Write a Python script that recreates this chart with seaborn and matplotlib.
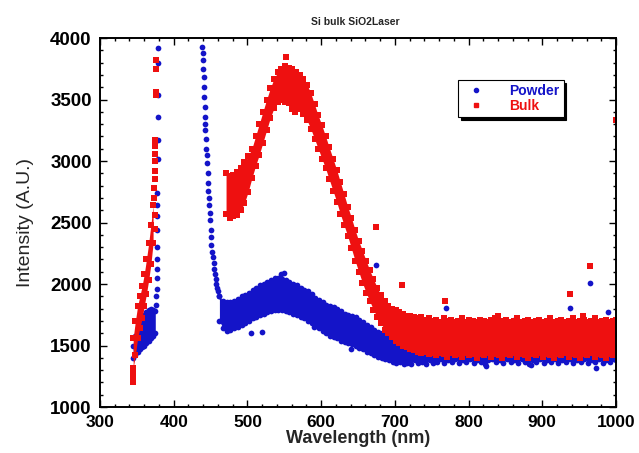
import pandas as pd
import matplotlib
matplotlib.use('Agg')
import matplotlib.pyplot as plt
import seaborn as sns
from matplotlib.ticker import MultipleLocator
from matplotlib.lines import Line2D

# ---- data: bands as (nm, low, high), single points as (nm, intensity)
powder_uv_band = [(345, 1400, 1500), (348, 1420, 1580), (351, 1450, 1640), (354, 1470, 1690),
                  (357, 1490, 1720), (360, 1500, 1750), (363, 1520, 1770), (366, 1540, 1790),
                  (369, 1560, 1800), (372, 1580, 1790), (375, 1600, 1780)]
powder_uv_peak = [(376, 1830), (376, 1900), (377, 1960), (377, 2050), (377, 2120), (378, 2200),
                  (378, 2300), (378, 2440), (378, 2550), (378, 2640), (378, 2740), (379, 3020),
                  (379, 3170), (379, 3360), (379, 3540), (379, 3800), (379, 3920)]
powder_laser_tail = [(439, 3930), (440, 3880), (440, 3820), (440, 3750), (441, 3680), (441, 3600),
                     (441, 3520), (442, 3440), (442, 3360), (443, 3300), (443, 3250), (444, 3180),
                     (444, 3100), (445, 3050), (445, 2980), (446, 2900), (447, 2820), (447, 2760),
                     (448, 2700), (448, 2640), (449, 2580), (449, 2520), (450, 2440), (451, 2380),
                     (451, 2320), (452, 2260), (453, 2220), (454, 2170), (455, 2120), (456, 2080),
                     (457, 2040), (458, 2000), (459, 1970), (460, 1940), (462, 1900)]
powder_vis_band = [(462, 1700, 1900), (467, 1640, 1860), (472, 1620, 1850), (477, 1630, 1850),
                   (482, 1640, 1860), (487, 1650, 1880), (492, 1670, 1900), (497, 1680, 1910),
                   (502, 1700, 1930), (507, 1720, 1950), (512, 1730, 1970), (517, 1750, 1990),
                   (522, 1760, 2000), (527, 1770, 2020), (532, 1780, 2030), (537, 1790, 2050),
                   (542, 1790, 2050), (547, 1790, 2040), (552, 1780, 2030), (557, 1770, 2020),
                   (562, 1760, 2000), (567, 1750, 1990), (572, 1730, 1970), (577, 1720, 1950),
                   (582, 1700, 1940), (587, 1680, 1920), (592, 1660, 1890), (597, 1640, 1870),
                   (602, 1620, 1850), (607, 1600, 1830), (612, 1580, 1820), (617, 1570, 1810),
                   (622, 1560, 1800), (627, 1540, 1780), (632, 1530, 1760), (637, 1520, 1750),
                   (642, 1510, 1740), (647, 1500, 1730), (652, 1480, 1710), (657, 1470, 1690),
                   (662, 1450, 1670), (667, 1440, 1650), (672, 1420, 1630), (677, 1410, 1610),
                   (682, 1400, 1600), (687, 1390, 1580), (692, 1380, 1570), (697, 1370, 1560),
                   (702, 1360, 1560), (707, 1370, 1550), (712, 1350, 1560), (717, 1360, 1530),
                   (722, 1350, 1540), (727, 1380, 1550), (732, 1360, 1560), (737, 1370, 1550),
                   (742, 1350, 1570), (747, 1380, 1560), (752, 1360, 1580), (757, 1370, 1570),
                   (762, 1390, 1590), (767, 1360, 1580), (772, 1380, 1600), (777, 1370, 1580),
                   (782, 1390, 1590), (787, 1360, 1570), (792, 1380, 1600), (797, 1370, 1580),
                   (802, 1390, 1590), (807, 1360, 1600), (812, 1380, 1580), (817, 1370, 1590),
                   (822, 1350, 1600), (827, 1380, 1580), (832, 1390, 1590), (837, 1370, 1600),
                   (842, 1380, 1580), (847, 1360, 1590), (852, 1390, 1600), (857, 1370, 1580),
                   (862, 1380, 1600), (867, 1360, 1590), (872, 1390, 1580), (877, 1370, 1600),
                   (882, 1350, 1590), (887, 1380, 1580), (892, 1370, 1600), (897, 1390, 1590),
                   (902, 1360, 1580), (907, 1380, 1600), (912, 1370, 1590), (917, 1390, 1580),
                   (922, 1360, 1600), (927, 1380, 1590), (932, 1370, 1580), (937, 1390, 1600),
                   (942, 1360, 1590), (947, 1380, 1580), (952, 1370, 1600), (957, 1390, 1590),
                   (962, 1360, 1580), (967, 1380, 1600), (972, 1370, 1590), (977, 1390, 1580),
                   (982, 1360, 1600), (987, 1380, 1590), (992, 1370, 1580), (997, 1390, 1600),
                   (1000, 1380, 1590)]
powder_strays = [(505, 1600), (520, 1610), (545, 2080), (550, 2090), (590, 1650), (640, 1470),
                 (674, 2155), (770, 1805), (824, 1330), (864, 1723), (885, 1340), (938, 1805),
                 (965, 2010), (973, 1320), (989, 1772)]

bulk_uv_band = [(345, 1320, 1560), (348, 1420, 1700), (351, 1560, 1820), (354, 1640, 1900),
                (357, 1720, 1980), (360, 1820, 2080), (363, 1920, 2200), (366, 2030, 2330),
                (369, 2160, 2480), (372, 2330, 2640)]
bulk_uv_peak = [(345, 1200), (345, 1250), (345, 1290), (373, 2700), (373, 2780), (374, 2850),
                (374, 2920), (374, 3000), (375, 3060), (375, 3120), (375, 3170), (376, 3540),
                (376, 3560), (376, 3750), (376, 3820), (374, 2450), (375, 2560)]
bulk_vis_band = [(471, 2570, 2900), (476, 2540, 2880), (481, 2550, 2890), (486, 2560, 2910),
                 (491, 2600, 2940), (496, 2660, 2990), (501, 2750, 3040), (506, 2860, 3100),
                 (511, 2960, 3200), (516, 3050, 3300), (521, 3150, 3400), (526, 3250, 3500),
                 (531, 3350, 3590), (536, 3430, 3670), (541, 3480, 3720), (546, 3500, 3750),
                 (551, 3480, 3770), (556, 3470, 3760), (561, 3460, 3750), (566, 3450, 3720),
                 (571, 3420, 3700), (576, 3380, 3670), (581, 3330, 3620), (586, 3260, 3550),
                 (591, 3180, 3460), (596, 3100, 3370), (601, 3020, 3290), (606, 2940, 3200),
                 (611, 2850, 3110), (616, 2760, 3020), (621, 2670, 2930), (626, 2570, 2830),
                 (631, 2480, 2730), (636, 2390, 2630), (641, 2290, 2540), (646, 2190, 2440),
                 (651, 2100, 2350), (656, 2010, 2270), (661, 1930, 2190), (666, 1860, 2110),
                 (671, 1790, 2040), (676, 1730, 1970), (681, 1680, 1910), (686, 1630, 1860),
                 (691, 1600, 1820), (696, 1570, 1800), (701, 1540, 1790), (706, 1520, 1770),
                 (711, 1500, 1760), (716, 1490, 1740), (721, 1470, 1740), (726, 1460, 1730),
                 (731, 1450, 1720), (736, 1440, 1730), (741, 1450, 1710), (746, 1430, 1720),
                 (751, 1440, 1700), (756, 1420, 1710), (761, 1440, 1690), (766, 1430, 1720),
                 (771, 1410, 1700), (776, 1440, 1710), (781, 1420, 1690), (786, 1430, 1700),
                 (791, 1410, 1720), (796, 1440, 1690), (801, 1420, 1710), (806, 1430, 1700),
                 (811, 1400, 1690), (816, 1430, 1710), (821, 1420, 1700), (826, 1440, 1690),
                 (831, 1410, 1710), (836, 1430, 1720), (841, 1420, 1690), (846, 1400, 1700),
                 (851, 1430, 1710), (856, 1420, 1690), (861, 1440, 1700), (866, 1410, 1720),
                 (871, 1430, 1690), (876, 1420, 1700), (881, 1400, 1710), (886, 1430, 1690),
                 (891, 1420, 1700), (896, 1440, 1710), (901, 1410, 1690), (906, 1430, 1700),
                 (911, 1420, 1720), (916, 1400, 1690), (921, 1430, 1700), (926, 1420, 1710),
                 (931, 1440, 1690), (936, 1410, 1700), (941, 1430, 1720), (946, 1420, 1690),
                 (951, 1400, 1700), (956, 1430, 1710), (961, 1420, 1690), (966, 1440, 1700),
                 (971, 1410, 1720), (976, 1430, 1690), (981, 1420, 1700), (986, 1400, 1710),
                 (991, 1430, 1690), (996, 1420, 1700), (1000, 1440, 1710)]
bulk_strays = [(553, 3845), (560, 3420), (565, 3400), (674, 2460), (710, 1990), (768, 1860),
               (840, 1740), (938, 1920), (955, 1740), (965, 2150), (1000, 3335)]

BLUE = '#1414c8'
RED = '#ee1010'


def to_frame(bands, singles, name):
    rows = []
    for band in bands:
        for nm, lo, hi in band:
            rows.append((nm, lo, name))
            rows.append((nm, hi, name))
    for pts in singles:
        for nm, val in pts:
            rows.append((nm, val, name))
    return pd.DataFrame(rows, columns=['nm', 'intensity', 'sample'])


powder = to_frame([powder_uv_band, powder_vis_band],
                  [powder_uv_peak, powder_laser_tail, powder_strays], 'Powder')
bulk = to_frame([bulk_uv_band, bulk_vis_band], [bulk_uv_peak, bulk_strays], 'Bulk')

sns.set_style('ticks')
plt.rcParams['font.family'] = ['Liberation Sans', 'DejaVu Sans']

fig = plt.figure(figsize=(6.39, 4.53), dpi=100)
ax = fig.add_axes([0.1565, 0.1015, 0.8075, 0.8146])

# dense bands: fill between the read envelopes, then the points themselves
for band in [powder_uv_band, powder_vis_band]:
    b = pd.DataFrame(band, columns=['nm', 'lo', 'hi'])
    ax.fill_between(b.nm, b.lo, b.hi, color=BLUE, lw=0)
sns.scatterplot(data=powder, x='nm', y='intensity', color=BLUE, marker='o', s=17,
                linewidth=0, ax=ax, legend=False)

for band in [bulk_uv_band, bulk_vis_band]:
    b = pd.DataFrame(band, columns=['nm', 'lo', 'hi'])
    ax.fill_between(b.nm, b.lo, b.hi, color=RED, lw=0)
sns.scatterplot(data=bulk, x='nm', y='intensity', color=RED, marker='s', s=14,
                linewidth=0, ax=ax, legend=False)

ax.set_xlim(300, 1000)
ax.set_ylim(1000, 4000)
ax.xaxis.set_major_locator(MultipleLocator(100))
ax.xaxis.set_minor_locator(MultipleLocator(20))
ax.yaxis.set_major_locator(MultipleLocator(500))
ax.yaxis.set_minor_locator(MultipleLocator(100))
ax.tick_params(which='both', direction='in', top=True, right=True, width=1, colors='black')
ax.tick_params(which='major', length=5, pad=6)
ax.tick_params(axis='x', which='major', labelsize=12.5)
ax.tick_params(axis='y', which='major', labelsize=13.5)
ax.tick_params(which='minor', length=2.5)
for lab in ax.get_xticklabels() + ax.get_yticklabels():
    lab.set_fontweight('bold')
for sp in ax.spines.values():
    sp.set_linewidth(1.4)
    sp.set_color('black')

ax.set_xlabel('Wavelength (nm)', fontsize=13, fontweight='bold', labelpad=0)
ax.set_ylabel('Intensity (A.U.)', fontsize=14, labelpad=12)
fig.text(0.556, 0.951, 'Si bulk SiO2Laser', ha='center', va='center', fontsize=7.5,
         fontweight='bold')

handles = [Line2D([], [], marker='o', color=BLUE, ls='', markersize=3),
           Line2D([], [], marker='s', color=RED, ls='', markersize=3)]
leg = ax.legend(handles, ['Powder', 'Bulk'], loc='upper left', bbox_to_anchor=(0.68, 0.905),
                frameon=True, fancybox=False, edgecolor='black', framealpha=1,
                shadow={'color': 'black', 'alpha': 1}, borderpad=0.3, labelspacing=0.05,
                handletextpad=1.4, prop={'weight': 'bold', 'size': 10})
leg.get_frame().set_linewidth(0.8)
for txt, c in zip(leg.get_texts(), [BLUE, RED]):
    txt.set_color(c)

plt.savefig('out.png', dpi=100)
